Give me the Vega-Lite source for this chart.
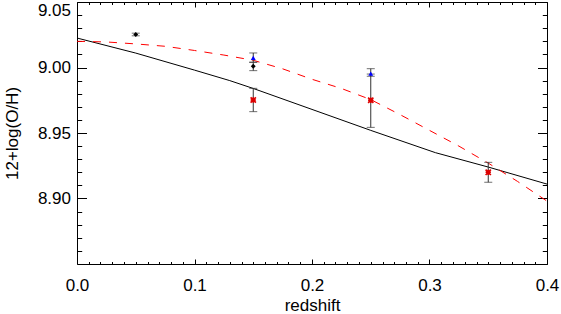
{
  "$schema": "https://vega.github.io/schema/vega-lite/v6.json",
  "width": 470,
  "height": 262,
  "autosize": {"type": "none"},
  "padding": {"left": 77, "top": 2, "right": 14, "bottom": 50},
  "background": "white",
  "config": {
    "view": {"stroke": "black", "strokeWidth": 1},
    "axis": {
      "labelFont": "Liberation Sans", "labelFontSize": 17, "labelColor": "black",
      "titleFont": "Liberation Sans", "titleFontSize": 17, "titleFontWeight": "normal", "titleColor": "black",
      "tickColor": "black", "domain": false, "grid": false
    }
  },
  "datasets": {
    "model": [
      {"z": 0.0, "v": 9.0225}, {"z": 0.05, "v": 9.011}, {"z": 0.1, "v": 8.998}, {"z": 0.13, "v": 8.990},
      {"z": 0.15, "v": 8.984}, {"z": 0.2, "v": 8.968}, {"z": 0.25, "v": 8.952}, {"z": 0.305, "v": 8.935},
      {"z": 0.35, "v": 8.924}, {"z": 0.4, "v": 8.911}
    ],
    "fit": [
      {"z": 0.0, "v": 9.020}, {"z": 0.025, "v": 9.0195}, {"z": 0.05, "v": 9.018}, {"z": 0.075, "v": 9.0162},
      {"z": 0.1, "v": 9.013}, {"z": 0.125, "v": 9.0095}, {"z": 0.15, "v": 9.0055}, {"z": 0.175, "v": 8.999},
      {"z": 0.2, "v": 8.991}, {"z": 0.225, "v": 8.984}, {"z": 0.25, "v": 8.9755}, {"z": 0.275, "v": 8.964},
      {"z": 0.3, "v": 8.952}, {"z": 0.325, "v": 8.940}, {"z": 0.35, "v": 8.927}, {"z": 0.375, "v": 8.913},
      {"z": 0.4, "v": 8.898}
    ],
    "obs": [
      {"z": 0.05, "v": 9.0252, "lo": 9.0242, "hi": 9.0262, "k": "black"},
      {"z": 0.15, "v": 9.0009, "lo": 8.9976, "hi": 9.004, "k": "black"},
      {"z": 0.15, "v": 9.0073, "lo": 9.004, "hi": 9.0111, "k": "blue"},
      {"z": 0.15, "v": 8.9752, "lo": 8.9663, "hi": 8.9841, "k": "red"},
      {"z": 0.25, "v": 8.9953, "lo": 8.9933, "hi": 8.9991, "k": "blue"},
      {"z": 0.25, "v": 8.975, "lo": 8.9543, "hi": 8.995, "k": "red"},
      {"z": 0.35, "v": 8.920, "lo": 8.9124, "hi": 8.9276, "k": "red"}
    ]
  },
  "resolve": {"axis": {"x": "independent", "y": "independent"}},
  "layer": [
    {
      "data": {"name": "model"},
      "mark": {"type": "line", "color": "black", "strokeWidth": 1},
      "encoding": {
        "x": {"field": "z", "type": "quantitative",
          "scale": {"domain": [0, 0.4], "nice": false, "zero": false},
          "axis": {"orient": "bottom", "values": [0, 0.1, 0.2, 0.3, 0.4], "format": ".1f", "tickSize": -5, "labelPadding": 18, "title": "redshift", "titlePadding": 4, "labelFlush": false}},
        "y": {"field": "v", "type": "quantitative",
          "scale": {"domain": [8.85, 9.05], "nice": false, "zero": false},
          "axis": {"orient": "left", "values": [8.9, 8.95, 9.0, 9.05], "format": ".2f", "tickSize": -9.5, "labelPadding": 16, "title": "12+log(O/H)", "titlePadding": 16, "labelFlush": true, "labelFlushOffset": 0}}
      }
    },
    {
      "data": {"name": "fit"},
      "mark": {"type": "line", "color": "#ff0000", "strokeWidth": 1, "strokeDash": [8, 8]},
      "encoding": {
        "x": {"field": "z", "type": "quantitative",
          "axis": {"orient": "top", "values": [0, 0.1, 0.2, 0.3, 0.4], "labels": false, "tickSize": -5, "title": null}},
        "y": {"field": "v", "type": "quantitative",
          "axis": {"orient": "right", "values": [8.85, 8.9, 8.95, 9.0, 9.05], "labels": false, "tickSize": -9.5, "title": null}}
      }
    },
    {
      "data": {"name": "obs"},
      "mark": {"type": "errorbar", "ticks": {"size": 8, "color": "#333333"}, "rule": {"color": "#333333"}},
      "encoding": {
        "x": {"field": "z", "type": "quantitative",
          "axis": {"orient": "bottom", "values": [0.01,0.02,0.03,0.04,0.05,0.06,0.07,0.08,0.09,0.11,0.12,0.13,0.14,0.15,0.16,0.17,0.18,0.19,0.21,0.22,0.23,0.24,0.25,0.26,0.27,0.28,0.29,0.31,0.32,0.33,0.34,0.35,0.36,0.37,0.38,0.39], "labels": false, "tickSize": -2.5, "title": null}},
        "y": {"field": "lo", "type": "quantitative",
          "axis": {"orient": "left", "values": [8.86,8.87,8.88,8.89,8.91,8.92,8.93,8.94,8.96,8.97,8.98,8.99,9.01,9.02,9.03,9.04], "labels": false, "tickSize": -4.7, "title": null}},
        "y2": {"field": "hi"}
      }
    },
    {
      "data": {"name": "obs"},
      "transform": [{"filter": "datum.k !== 'red'"}],
      "mark": {"type": "point", "filled": true, "opacity": 1, "size": 24},
      "encoding": {
        "x": {"field": "z", "type": "quantitative",
          "axis": {"orient": "top", "values": [0.01,0.02,0.03,0.04,0.05,0.06,0.07,0.08,0.09,0.11,0.12,0.13,0.14,0.15,0.16,0.17,0.18,0.19,0.21,0.22,0.23,0.24,0.25,0.26,0.27,0.28,0.29,0.31,0.32,0.33,0.34,0.35,0.36,0.37,0.38,0.39], "labels": false, "tickSize": -2.5, "title": null}},
        "y": {"field": "v", "type": "quantitative",
          "axis": {"orient": "right", "values": [8.86,8.87,8.88,8.89,8.91,8.92,8.93,8.94,8.96,8.97,8.98,8.99,9.01,9.02,9.03,9.04], "labels": false, "tickSize": -4.7, "title": null}},
        "color": {"field": "k", "type": "nominal", "legend": null,
          "scale": {"domain": ["black", "blue"], "range": ["#000000", "#0000ff"]}},
        "shape": {"field": "k", "type": "nominal", "legend": null,
          "scale": {"domain": ["black", "blue"], "range": ["diamond", "triangle-up"]}}
      }
    },
    {
      "data": {"name": "obs"},
      "transform": [{"filter": "datum.k === 'red'"}],
      "mark": {"type": "point", "filled": false, "opacity": 1, "size": 28, "strokeWidth": 1.6, "shape": "M-1,-1L1,1M1,-1L-1,1M0,-1L0,1M-1,0L1,0", "color": "#dd0000"},
      "encoding": {
        "x": {"field": "z", "type": "quantitative", "axis": null},
        "y": {"field": "v", "type": "quantitative", "axis": null}
      }
    }
  ]
}
